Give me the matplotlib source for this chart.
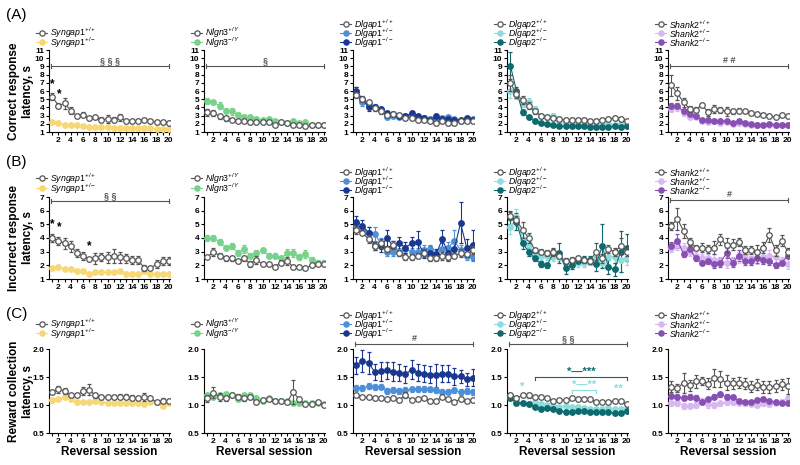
import numpy as np
import matplotlib.pyplot as plt

plt.rcParams['font.family'] = 'Liberation Sans'
plt.rcParams['mathtext.fontset'] = 'custom'
plt.rcParams['mathtext.it'] = 'Liberation Sans:italic'
plt.rcParams['mathtext.rm'] = 'Liberation Sans'
plt.rcParams['mathtext.bf'] = 'Liberation Sans:bold'

# ---- data (mean, sem) per reversal session 1..20 ----
session = np.arange(1, 21)

# (A) correct response latency, s
A_syn_wt = [5.3, 4.2, 4.5, 3.6, 3.0, 3.1, 2.7, 2.8, 2.5, 2.6, 2.5, 2.8, 2.3, 2.3, 2.4, 2.5, 2.3, 2.2, 2.2, 2.1]
A_syn_wt_e = [0.4, 0.3, 0.7, 0.4, 0.2, 0.3, 0.2, 0.2, 0.3, 0.5, 0.3, 0.4, 0.2, 0.2, 0.2, 0.2, 0.2, 0.2, 0.2, 0.2]
A_syn_het = [2.2, 2.1, 1.9, 1.85, 1.8, 1.7, 1.6, 1.6, 1.55, 1.55, 1.5, 1.5, 1.5, 1.5, 1.45, 1.45, 1.45, 1.4, 1.4, 1.4]
A_syn_het_e = [0.15, 0.1, 0.1, 0.1, 0.1, 0.1, 0.1, 0.1, 0.1, 0.1, 0.1, 0.1, 0.1, 0.1, 0.1, 0.1, 0.1, 0.1, 0.1, 0.1]
A_nlg_wt = [3.4, 3.3, 2.9, 2.7, 2.5, 2.4, 2.4, 2.2, 2.2, 2.2, 2.2, 1.9, 2.2, 2.1, 1.8, 1.8, 1.7, 1.8, 1.8, 1.8]
A_nlg_wt_e = [0.4, 0.4, 0.3, 0.3, 0.2, 0.2, 0.2, 0.2, 0.2, 0.2, 0.2, 0.2, 0.1, 0.1, 0.1, 0.1, 0.1, 0.1, 0.1, 0.1]
A_nlg_ko = [4.8, 4.6, 4.2, 3.6, 3.5, 3.1, 2.8, 2.8, 2.6, 2.5, 2.6, 2.3, 2.2, 2.1, 2.4, 2.1, 2.2, 1.9, 1.8, 1.8]
A_nlg_ko_e = [0.4, 0.2, 0.4, 0.3, 0.4, 0.3, 0.2, 0.2, 0.2, 0.2, 0.2, 0.2, 0.1, 0.1, 0.2, 0.1, 0.1, 0.1, 0.1, 0.1]
A_dg1_wt = [5.5, 5.0, 4.6, 3.9, 3.5, 3.1, 3.2, 3.1, 2.7, 2.7, 2.5, 2.5, 2.3, 2.1, 2.3, 2.1, 2.1, 2.3, 2.4, 2.3]
A_dg1_wt_e = [0.4, 0.3, 0.3, 0.3, 0.3, 0.2, 0.2, 0.2, 0.2, 0.2, 0.2, 0.2, 0.2, 0.2, 0.2, 0.2, 0.2, 0.2, 0.2, 0.2]
A_dg1_het = [5.9, 4.6, 4.3, 4.1, 3.7, 2.8, 3.0, 2.8, 2.9, 3.0, 2.8, 2.7, 2.6, 2.7, 2.7, 2.8, 2.6, 2.4, 2.6, 2.6]
A_dg1_het_e = [0.6, 0.4, 0.3, 0.3, 0.3, 0.2, 0.2, 0.2, 0.2, 0.2, 0.2, 0.2, 0.2, 0.2, 0.2, 0.2, 0.2, 0.2, 0.2, 0.2]
A_dg1_ko = [6.0, 5.0, 4.0, 4.0, 3.8, 3.3, 3.2, 3.0, 2.9, 3.3, 2.9, 2.7, 2.5, 2.9, 2.6, 2.6, 2.5, 2.5, 2.7, 2.5]
A_dg1_ko_e = [0.5, 0.4, 0.4, 0.3, 0.3, 0.2, 0.2, 0.2, 0.2, 0.3, 0.2, 0.2, 0.2, 0.2, 0.2, 0.2, 0.2, 0.2, 0.2, 0.2]
A_dg2_wt = [7.0, 5.6, 4.9, 4.2, 3.5, 3.0, 2.8, 2.7, 2.6, 2.5, 2.5, 2.5, 2.5, 2.3, 2.4, 2.5, 2.6, 2.7, 2.6, 2.4]
A_dg2_wt_e = [1.0, 0.5, 0.5, 0.4, 0.3, 0.2, 0.2, 0.2, 0.2, 0.2, 0.2, 0.2, 0.2, 0.2, 0.2, 0.2, 0.2, 0.2, 0.2, 0.2]
A_dg2_het = [6.0, 5.5, 4.4, 4.6, 3.8, 3.0, 2.8, 3.0, 2.3, 2.1, 2.1, 2.1, 2.0, 2.0, 1.9, 2.0, 2.0, 1.9, 2.0, 1.9]
A_dg2_het_e = [0.8, 0.5, 0.4, 0.6, 0.4, 0.2, 0.2, 0.3, 0.2, 0.2, 0.2, 0.2, 0.2, 0.2, 0.2, 0.2, 0.2, 0.2, 0.2, 0.2]
A_dg2_ko = [9.1, 6.0, 3.4, 2.8, 2.4, 2.1, 2.0, 1.8, 1.75, 1.7, 1.7, 1.7, 1.7, 1.6, 1.6, 1.65, 1.6, 1.75, 1.6, 1.7]
A_dg2_ko_e = [1.6, 0.5, 0.3, 0.2, 0.2, 0.1, 0.1, 0.1, 0.1, 0.1, 0.1, 0.1, 0.1, 0.1, 0.1, 0.1, 0.1, 0.1, 0.1, 0.1]
A_sh2_wt = [6.7, 5.7, 4.6, 3.8, 3.7, 4.3, 3.4, 3.8, 3.7, 3.5, 3.5, 3.6, 3.5, 3.3, 3.2, 3.1, 3.0, 2.8, 3.1, 2.9]
A_sh2_wt_e = [1.3, 0.8, 0.5, 0.4, 0.3, 0.2, 0.4, 0.5, 0.4, 0.5, 0.3, 0.3, 0.2, 0.2, 0.2, 0.2, 0.2, 0.2, 0.2, 0.2]
A_sh2_het = [3.8, 4.0, 3.3, 2.8, 2.8, 2.4, 2.2, 2.3, 2.1, 2.2, 2.0, 2.1, 2.0, 1.9, 1.9, 1.8, 1.8, 1.8, 1.8, 1.8]
A_sh2_het_e = [0.4, 0.4, 0.3, 0.2, 0.2, 0.2, 0.2, 0.2, 0.2, 0.2, 0.2, 0.2, 0.2, 0.1, 0.1, 0.1, 0.1, 0.1, 0.1, 0.1]
A_sh2_ko = [4.2, 4.2, 3.5, 3.2, 2.9, 2.5, 2.5, 2.3, 2.4, 2.3, 2.1, 2.3, 2.1, 2.0, 1.9, 1.9, 2.0, 1.9, 1.9, 1.9]
A_sh2_ko_e = [0.3, 0.3, 0.2, 0.2, 0.2, 0.2, 0.2, 0.1, 0.2, 0.2, 0.1, 0.2, 0.1, 0.1, 0.1, 0.1, 0.1, 0.1, 0.1, 0.1]

# (B) incorrect response latency, s
B_syn_wt = [4.0, 3.8, 3.6, 3.4, 2.9, 2.7, 2.45, 2.5, 2.6, 2.6, 2.7, 2.6, 2.5, 2.4, 2.4, 1.8, 1.8, 2.1, 2.3, 2.3]
B_syn_wt_e = [0.3, 0.3, 0.4, 0.4, 0.3, 0.3, 0.1, 0.4, 0.3, 0.4, 0.5, 0.4, 0.3, 0.3, 0.3, 0.2, 0.1, 0.3, 0.3, 0.3]
B_syn_het = [1.8, 1.9, 1.7, 1.7, 1.6, 1.6, 1.4, 1.5, 1.5, 1.5, 1.5, 1.55, 1.4, 1.4, 1.4, 1.55, 1.4, 1.35, 1.4, 1.4]
B_syn_het_e = [0.1, 0.1, 0.1, 0.1, 0.1, 0.1, 0.1, 0.1, 0.1, 0.1, 0.1, 0.1, 0.1, 0.1, 0.1, 0.1, 0.1, 0.1, 0.1, 0.1]
B_nlg_wt = [2.6, 3.0, 2.7, 2.5, 2.5, 2.3, 2.5, 2.1, 2.4, 2.1, 2.1, 1.9, 2.2, 2.3, 1.9, 1.9, 1.8, 2.0, 2.1, 2.1]
B_nlg_wt_e = [0.1, 0.3, 0.2, 0.2, 0.2, 0.1, 0.2, 0.2, 0.3, 0.1, 0.1, 0.1, 0.2, 0.3, 0.1, 0.1, 0.1, 0.1, 0.1, 0.1]
B_nlg_ko = [4.0, 4.0, 3.7, 3.3, 3.4, 2.9, 3.2, 2.7, 2.9, 3.1, 2.7, 2.7, 2.5, 2.9, 2.9, 2.6, 2.8, 2.4, 2.2, 2.2]
B_nlg_ko_e = [0.2, 0.2, 0.2, 0.2, 0.2, 0.2, 0.3, 0.2, 0.2, 0.2, 0.2, 0.2, 0.2, 0.3, 0.3, 0.2, 0.3, 0.2, 0.2, 0.2]
B_dg1_wt = [4.6, 4.4, 3.9, 3.4, 3.6, 3.2, 3.5, 2.9, 2.6, 2.6, 2.7, 2.9, 2.5, 2.5, 2.7, 2.6, 2.7, 2.9, 2.8, 3.1]
B_dg1_wt_e = [0.3, 0.2, 0.3, 0.3, 0.3, 0.2, 0.3, 0.2, 0.2, 0.2, 0.2, 0.3, 0.2, 0.2, 0.3, 0.3, 0.2, 0.3, 0.2, 0.3]
B_dg1_het = [4.9, 4.6, 4.4, 4.3, 3.6, 3.0, 3.0, 3.0, 3.2, 3.0, 3.0, 3.1, 3.2, 2.8, 3.2, 3.3, 3.8, 3.1, 2.7, 2.6]
B_dg1_het_e = [0.4, 0.3, 0.4, 0.5, 0.4, 0.3, 0.3, 0.3, 0.3, 0.3, 0.3, 0.4, 0.3, 0.3, 0.4, 0.4, 0.8, 0.4, 0.3, 0.3]
B_dg1_ko = [5.2, 4.9, 4.4, 3.4, 3.4, 4.0, 3.4, 3.6, 3.3, 3.6, 3.7, 2.9, 2.9, 2.8, 3.9, 2.9, 3.2, 5.1, 3.3, 3.5]
B_dg1_ko_e = [0.4, 0.4, 0.4, 0.3, 0.4, 0.6, 0.4, 0.5, 0.4, 0.5, 0.8, 0.4, 0.5, 0.4, 0.7, 0.5, 0.6, 1.5, 0.6, 1.1]
B_dg2_wt = [5.6, 5.3, 4.6, 4.0, 3.1, 3.0, 2.9, 3.0, 2.7, 2.3, 2.4, 2.5, 2.4, 2.3, 3.0, 2.5, 3.2, 3.0, 3.4, 3.0]
B_dg2_wt_e = [0.3, 0.3, 0.6, 0.4, 0.2, 0.2, 0.2, 0.3, 0.2, 0.2, 0.2, 0.2, 0.2, 0.2, 0.6, 0.3, 0.3, 0.3, 0.6, 0.3]
B_dg2_het = [4.8, 5.5, 3.9, 3.5, 2.9, 2.7, 2.7, 2.6, 2.6, 2.3, 2.2, 2.2, 2.2, 2.3, 2.4, 2.2, 2.6, 2.6, 2.4, 2.5]
B_dg2_het_e = [0.5, 0.6, 0.4, 0.8, 0.3, 0.3, 0.3, 0.3, 0.3, 0.2, 0.2, 0.3, 0.3, 0.3, 0.3, 0.3, 0.5, 0.4, 0.9, 0.5]
B_dg2_ko = [5.5, 5.2, 3.6, 3.0, 2.5, 2.1, 2.0, 2.9, 2.9, 1.8, 2.0, 2.3, 2.4, 2.4, 2.1, 3.4, 1.9, 1.7, 3.0, 3.3]
B_dg2_ko_e = [0.5, 0.6, 0.4, 0.3, 0.2, 0.2, 0.2, 0.3, 0.7, 0.4, 0.3, 0.2, 0.3, 0.3, 0.5, 1.6, 0.5, 0.5, 1.5, 1.0]
B_sh2_wt = [4.9, 5.4, 4.5, 3.7, 3.3, 3.3, 3.2, 3.3, 3.9, 3.5, 3.5, 3.7, 3.1, 3.1, 3.0, 3.3, 4.2, 3.1, 3.8, 3.0]
B_sh2_wt_e = [0.3, 0.8, 0.5, 0.3, 0.2, 0.3, 0.3, 0.5, 0.4, 0.5, 0.4, 0.3, 0.3, 0.3, 0.5, 0.4, 0.5, 0.4, 0.4, 0.3]
B_sh2_het = [3.3, 3.5, 3.3, 3.0, 2.7, 2.5, 2.5, 2.4, 2.3, 2.2, 2.3, 2.6, 2.8, 2.4, 2.5, 2.6, 2.7, 2.6, 2.3, 2.1]
B_sh2_het_e = [0.3, 0.4, 0.3, 0.3, 0.3, 0.3, 0.3, 0.4, 0.3, 0.4, 0.3, 0.4, 0.4, 0.3, 0.4, 0.4, 0.4, 0.4, 0.3, 0.4]
B_sh2_ko = [3.4, 3.8, 2.8, 3.2, 2.5, 2.2, 2.3, 2.1, 2.2, 2.9, 2.2, 2.7, 2.3, 2.3, 2.5, 2.4, 2.3, 2.0, 2.2, 2.7]
B_sh2_ko_e = [0.3, 0.5, 0.2, 0.3, 0.2, 0.2, 0.2, 0.3, 0.3, 0.4, 0.3, 0.4, 0.3, 0.3, 0.3, 0.3, 0.3, 0.2, 0.2, 0.2]

# (C) reward collection latency, s
C_syn_wt = [1.23, 1.28, 1.25, 1.17, 1.17, 1.25, 1.27, 1.17, 1.14, 1.14, 1.14, 1.15, 1.15, 1.13, 1.12, 1.15, 1.12, 1.05, 1.08, 1.07]
C_syn_wt_e = [0.04, 0.06, 0.06, 0.03, 0.03, 0.07, 0.1, 0.05, 0.03, 0.03, 0.04, 0.05, 0.04, 0.04, 0.03, 0.07, 0.03, 0.03, 0.05, 0.03]
C_syn_het = [1.09, 1.10, 1.15, 1.10, 1.06, 1.05, 1.05, 1.08, 1.05, 1.03, 1.03, 1.04, 1.03, 1.04, 1.03, 1.02, 1.05, 1.05, 0.99, 1.03]
C_syn_het_e = [0.03, 0.03, 0.03, 0.03, 0.02, 0.02, 0.02, 0.03, 0.02, 0.02, 0.02, 0.02, 0.02, 0.02, 0.02, 0.02, 0.02, 0.02, 0.02, 0.02]
C_nlg_wt = [1.12, 1.22, 1.15, 1.12, 1.17, 1.15, 1.12, 1.14, 1.05, 1.09, 1.10, 1.08, 1.08, 1.05, 1.23, 1.10, 1.01, 1.01, 1.05, 1.00]
C_nlg_wt_e = [0.06, 0.1, 0.07, 0.04, 0.03, 0.04, 0.04, 0.04, 0.03, 0.03, 0.03, 0.02, 0.02, 0.03, 0.22, 0.04, 0.02, 0.02, 0.03, 0.02]
C_nlg_ko = [1.18, 1.15, 1.18, 1.20, 1.18, 1.10, 1.17, 1.18, 1.12, 1.08, 1.12, 1.08, 1.08, 1.07, 1.04, 1.03, 1.03, 1.04, 1.03, 1.02]
C_nlg_ko_e = [0.04, 0.04, 0.04, 0.04, 0.03, 0.03, 0.03, 0.03, 0.03, 0.02, 0.02, 0.02, 0.02, 0.02, 0.02, 0.02, 0.02, 0.02, 0.02, 0.02]
C_dg1_wt = [1.17, 1.14, 1.14, 1.13, 1.12, 1.10, 1.12, 1.09, 1.18, 1.09, 1.10, 1.12, 1.08, 1.08, 1.14, 1.10, 1.05, 1.11, 1.07, 1.09]
C_dg1_wt_e = [0.03, 0.02, 0.02, 0.02, 0.02, 0.02, 0.02, 0.03, 0.05, 0.02, 0.02, 0.02, 0.02, 0.02, 0.03, 0.02, 0.02, 0.03, 0.02, 0.03]
C_dg1_het = [1.30, 1.30, 1.34, 1.32, 1.33, 1.25, 1.27, 1.25, 1.27, 1.28, 1.29, 1.29, 1.28, 1.26, 1.24, 1.24, 1.26, 1.23, 1.25, 1.23]
C_dg1_het_e = [0.05, 0.05, 0.05, 0.05, 0.05, 0.05, 0.05, 0.05, 0.05, 0.05, 0.05, 0.05, 0.05, 0.05, 0.05, 0.05, 0.05, 0.05, 0.05, 0.05]
C_dg1_ko = [1.71, 1.79, 1.75, 1.59, 1.60, 1.62, 1.59, 1.58, 1.55, 1.63, 1.58, 1.56, 1.54, 1.53, 1.56, 1.56, 1.51, 1.51, 1.46, 1.49]
C_dg1_ko_e = [0.15, 0.2, 0.2, 0.15, 0.17, 0.15, 0.17, 0.15, 0.15, 0.17, 0.15, 0.15, 0.15, 0.2, 0.15, 0.15, 0.15, 0.12, 0.12, 0.15]
C_dg2_wt = [1.18, 1.13, 1.17, 1.17, 1.15, 1.15, 1.12, 1.07, 1.09, 1.09, 1.12, 1.10, 1.11, 1.10, 1.06, 1.05, 1.05, 1.08, 1.07, 1.01]
C_dg2_wt_e = [0.03, 0.03, 0.03, 0.04, 0.03, 0.03, 0.02, 0.02, 0.02, 0.02, 0.02, 0.02, 0.02, 0.02, 0.02, 0.02, 0.02, 0.02, 0.02, 0.02]
C_dg2_het = [1.12, 1.08, 1.03, 1.02, 1.05, 1.01, 1.00, 0.99, 0.97, 0.98, 0.97, 0.96, 0.95, 0.92, 0.92, 0.93, 0.95, 0.93, 0.93, 0.92]
C_dg2_het_e = [0.03, 0.02, 0.02, 0.02, 0.02, 0.02, 0.02, 0.02, 0.02, 0.02, 0.02, 0.02, 0.02, 0.02, 0.02, 0.02, 0.02, 0.02, 0.02, 0.02]
C_dg2_ko = [1.13, 1.04, 1.03, 1.02, 0.97, 0.93, 0.95, 0.93, 0.90, 0.88, 0.88, 0.90, 0.89, 0.88, 0.88, 0.87, 0.87, 0.86, 0.86, 0.89]
C_dg2_ko_e = [0.02, 0.02, 0.02, 0.02, 0.02, 0.02, 0.02, 0.02, 0.02, 0.02, 0.02, 0.02, 0.02, 0.02, 0.02, 0.02, 0.02, 0.02, 0.02, 0.02]
C_sh2_wt = [1.33, 1.30, 1.40, 1.35, 1.42, 1.43, 1.38, 1.48, 1.46, 1.40, 1.39, 1.40, 1.38, 1.33, 1.36, 1.32, 1.32, 1.34, 1.37, 1.34]
C_sh2_wt_e = [0.1, 0.07, 0.18, 0.1, 0.12, 0.07, 0.1, 0.16, 0.14, 0.13, 0.1, 0.1, 0.1, 0.1, 0.1, 0.1, 0.1, 0.1, 0.1, 0.14]
C_sh2_het = [1.03, 1.04, 0.98, 0.99, 1.00, 1.07, 1.01, 1.00, 1.03, 1.05, 1.05, 1.04, 1.03, 1.02, 1.00, 1.03, 1.02, 1.04, 1.05, 1.13]
C_sh2_het_e = [0.04, 0.05, 0.05, 0.05, 0.05, 0.05, 0.06, 0.05, 0.05, 0.05, 0.05, 0.04, 0.04, 0.04, 0.04, 0.04, 0.04, 0.04, 0.05, 0.05]
C_sh2_ko = [1.16, 1.15, 1.13, 1.15, 1.13, 1.06, 1.10, 1.15, 1.19, 1.15, 1.14, 1.08, 1.06, 1.05, 1.09, 1.11, 1.07, 1.05, 1.04, 1.04]
C_sh2_ko_e = [0.04, 0.05, 0.04, 0.04, 0.04, 0.03, 0.04, 0.05, 0.05, 0.04, 0.04, 0.03, 0.03, 0.03, 0.03, 0.04, 0.04, 0.03, 0.03, 0.03]

# ---- style ----
wt_col = "#555555"
col_syn = "#F7D877"
col_nlg = "#77D28A"
col_dg1_het = "#4E90D8"
col_dg1_ko = "#1B3891"
col_dg2_het = "#8EDDDD"
col_dg2_ko = "#0E6A6E"
col_sh2_het = "#D8B8F0"
col_sh2_ko = "#8750B2"

lab = {
    "syn": [r"$\mathit{Syngap1}^{+/+}$", r"$\mathit{Syngap1}^{+/-}$"],
    "nlg": [r"$\mathit{Nlgn3}^{+/\mathit{Y}}$", r"$\mathit{Nlgn3}^{-/\mathit{Y}}$"],
    "dg1": [r"$\mathit{Dlgap1}^{+/+}$", r"$\mathit{Dlgap1}^{+/-}$", r"$\mathit{Dlgap1}^{-/-}$"],
    "dg2": [r"$\mathit{Dlgap2}^{+/+}$", r"$\mathit{Dlgap2}^{+/-}$", r"$\mathit{Dlgap2}^{-/-}$"],
    "sh2": [r"$\mathit{Shank2}^{+/+}$", r"$\mathit{Shank2}^{+/-}$", r"$\mathit{Shank2}^{-/-}$"],
}

rows = [
    {"syn": [(A_syn_wt, A_syn_wt_e), (A_syn_het, A_syn_het_e)],
     "nlg": [(A_nlg_wt, A_nlg_wt_e), (A_nlg_ko, A_nlg_ko_e)],
     "dg1": [(A_dg1_wt, A_dg1_wt_e), (A_dg1_het, A_dg1_het_e), (A_dg1_ko, A_dg1_ko_e)],
     "dg2": [(A_dg2_wt, A_dg2_wt_e), (A_dg2_het, A_dg2_het_e), (A_dg2_ko, A_dg2_ko_e)],
     "sh2": [(A_sh2_wt, A_sh2_wt_e), (A_sh2_het, A_sh2_het_e), (A_sh2_ko, A_sh2_ko_e)]},
    {"syn": [(B_syn_wt, B_syn_wt_e), (B_syn_het, B_syn_het_e)],
     "nlg": [(B_nlg_wt, B_nlg_wt_e), (B_nlg_ko, B_nlg_ko_e)],
     "dg1": [(B_dg1_wt, B_dg1_wt_e), (B_dg1_het, B_dg1_het_e), (B_dg1_ko, B_dg1_ko_e)],
     "dg2": [(B_dg2_wt, B_dg2_wt_e), (B_dg2_het, B_dg2_het_e), (B_dg2_ko, B_dg2_ko_e)],
     "sh2": [(B_sh2_wt, B_sh2_wt_e), (B_sh2_het, B_sh2_het_e), (B_sh2_ko, B_sh2_ko_e)]},
    {"syn": [(C_syn_wt, C_syn_wt_e), (C_syn_het, C_syn_het_e)],
     "nlg": [(C_nlg_wt, C_nlg_wt_e), (C_nlg_ko, C_nlg_ko_e)],
     "dg1": [(C_dg1_wt, C_dg1_wt_e), (C_dg1_het, C_dg1_het_e), (C_dg1_ko, C_dg1_ko_e)],
     "dg2": [(C_dg2_wt, C_dg2_wt_e), (C_dg2_het, C_dg2_het_e), (C_dg2_ko, C_dg2_ko_e)],
     "sh2": [(C_sh2_wt, C_sh2_wt_e), (C_sh2_het, C_sh2_het_e), (C_sh2_ko, C_sh2_ko_e)]},
]
genes = ["syn", "nlg", "dg1", "dg2", "sh2"]
colors = {"syn": [wt_col, col_syn], "nlg": [wt_col, col_nlg],
          "dg1": [wt_col, col_dg1_het, col_dg1_ko], "dg2": [wt_col, col_dg2_het, col_dg2_ko],
          "sh2": [wt_col, col_sh2_het, col_sh2_ko]}

ylabels = ["Correct response\nlatency, s", "Incorrect response\nlatency, s", "Reward collection\nlatency, s"]
ylims = [(1, 11), (1, 7), (0.5, 2.0)]
yticks = [np.arange(1, 12), np.arange(1, 8), [0.5, 1.0, 1.5, 2.0]]
letters = ["(A)", "(B)", "(C)"]

# layout in pixels (figure 800 x 465)
W, H = 800, 465
lefts_px = [49, 204, 353, 507, 668]
w_px = 121
tops_px = [50, 197, 349]
h_px = [82, 82, 84]
# legend offsets above axes top (px)
leg_off2 = [[17.5, 8], [18.5, 9], [25.5, 16]]
leg_off3 = [[26, 17, 8], [25, 16, 7], [34, 25, 16]]

fig = plt.figure(figsize=(8, 4.65), dpi=100)


def draw_legend(ax, labels, cols, offs, hpx):
    for i, (text, c, off) in enumerate(zip(labels, cols, offs)):
        y = 1 + off / hpx
        ax.plot([-0.105, -0.015], [y, y], color=c, lw=0.8, transform=ax.transAxes, clip_on=False)
        ax.plot([-0.06], [y], marker='o', ms=3.8, mew=0.9, mec=c,
                mfc='white' if i == 0 else c, transform=ax.transAxes, clip_on=False)
        ax.text(0.01, y - 0.5 / hpx, text, fontsize=6.3, va='center', ha='left',
                transform=ax.transAxes)


def sig_bar(ax, x0, x1, y, text, c=wt_col, dy=0.0, tdy=0.0, fs=6.5, ends='both'):
    ax.plot([x0, x1], [y, y], color=c, lw=0.8, clip_on=False)
    for xx in (x0, x1):
        if ends == 'both':
            ax.plot([xx, xx], [y - dy, y + dy], color=c, lw=0.8, clip_on=False)
        else:
            ax.plot([xx, xx], [y - dy, y], color=c, lw=0.8, clip_on=False)
    ax.text((x0 + x1) / 2, y + tdy, text, ha='center', va='bottom', fontsize=fs, color=c,
            fontweight='bold')


axes = {}
for r in range(3):
    bottom = 1 - (tops_px[r] + h_px[r]) / H
    for k, g in enumerate(genes):
        ax = fig.add_axes([lefts_px[k] / W, bottom, w_px / W, h_px[r] / H])
        axes[(r, k)] = ax
        series = rows[r][g]
        cols = colors[g]
        # mutants first, then wild type on top
        order = list(range(1, len(series))) + [0]
        for i in order:
            m, e = series[i]
            c = cols[i]
            ax.errorbar(session, m, yerr=e, fmt='-o', color=c, ms=4, lw=0.8,
                        mfc='white' if i == 0 else c, mec=c, mew=0.9,
                        elinewidth=0.8, capsize=1.5, capthick=0.8, zorder=3 + (i == 0))
        ax.set_xlim(0.45, 20.2)
        ax.set_ylim(*ylims[r])
        ax.set_yticks(yticks[r])
        if r == 2:
            ax.set_yticklabels([f"{v:.1f}" for v in yticks[r]])
        ax.set_xticks(np.arange(2, 21, 2))
        ax.set_xticks(np.arange(1, 21, 2), minor=True)
        for s in ['top', 'right']:
            ax.spines[s].set_visible(False)
        for s in ['left', 'bottom']:
            ax.spines[s].set_linewidth(0.8)
        ax.tick_params(which='both', length=2.2, width=0.8, labelsize=6, pad=1.2)
        for t in ax.get_xticklabels() + ax.get_yticklabels():
            t.set_fontweight('bold')
        offs = leg_off2[r] if len(series) == 2 else leg_off3[r]
        draw_legend(ax, lab[g], cols, offs, h_px[r])
        if r == 2:
            ax.set_xlabel("Reversal session", fontsize=8.5, fontweight='bold', labelpad=1)
    yc = 1 - (tops_px[r] + h_px[r] / 2) / H
    fig.text(0.026, yc, ylabels[r], rotation=90, ha='center', va='center',
             fontsize=8.5, fontweight='bold', multialignment='center', linespacing=1.2)
    fig.text(0.008, 1 - (tops_px[r] - 35) / H, letters[r], fontsize=11, ha='left', va='center')

# significance annotations
sig_bar(axes[(0, 0)], 0.8, 20, 9.0, "§ § §", dy=0.25, tdy=0.15)
sig_bar(axes[(0, 1)], 0.8, 20, 9.0, "§", dy=0.25, tdy=0.15)
sig_bar(axes[(0, 4)], 0.8, 20, 9.0, "# #", dy=0.25, tdy=0.15)
sig_bar(axes[(1, 0)], 0.8, 20, 6.7, "§ §", dy=0.15, tdy=0.08)
sig_bar(axes[(1, 4)], 0.8, 20, 6.75, "#", dy=0.15, tdy=0.08)
sig_bar(axes[(2, 2)], 0.8, 20, 2.09, "#", dy=0.03, tdy=0.015)
sig_bar(axes[(2, 3)], 0.8, 20, 2.09, "§ §", dy=0.03, tdy=0.015)
sig_bar(axes[(2, 3)], 5, 20, 1.50, "*—***", c=col_dg2_ko, dy=0.06, tdy=0.0, fs=8, ends='down')
sig_bar(axes[(2, 3)], 11, 15, 1.27, "*—**", c=col_dg2_het, dy=0.05, tdy=0.0, fs=8, ends='down')
axes[(2, 3)].text(18.7, 1.2, "**", ha='center', va='bottom', fontsize=8, color=col_dg2_het, fontweight='bold')
axes[(2, 3)].text(3, 1.24, "*", ha='center', va='bottom', fontsize=8, color=col_dg2_het, fontweight='bold')

# asterisks Syngap1
axes[(0, 0)].text(1, 6.1, "*", ha='center', va='bottom', fontsize=8.5, fontweight='bold')
axes[(0, 0)].text(2.2, 4.9, "*", ha='center', va='bottom', fontsize=8.5, fontweight='bold')
axes[(1, 0)].text(1, 4.55, "*", ha='center', va='bottom', fontsize=8.5, fontweight='bold')
axes[(1, 0)].text(2.1, 4.35, "*", ha='center', va='bottom', fontsize=8.5, fontweight='bold')
axes[(1, 0)].text(7, 2.95, "*", ha='center', va='bottom', fontsize=8.5, fontweight='bold')

fig.savefig("out.png", dpi=100)
